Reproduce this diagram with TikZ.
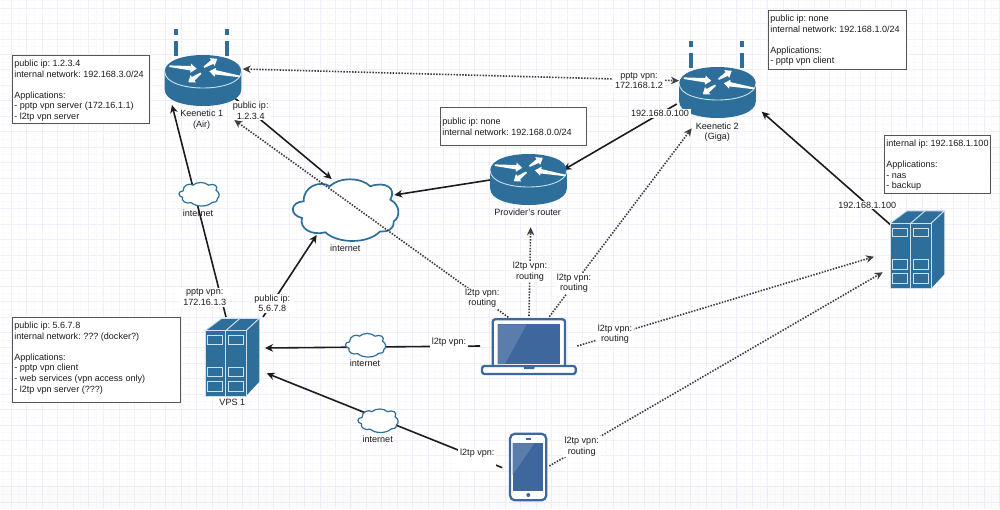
\documentclass[tikz,border=0pt]{standalone}
\usepackage{fontspec}
\setmainfont{Liberation Sans}
\frenchspacing
\usetikzlibrary{arrows.meta,calc}
\definecolor{gridminor}{RGB}{250,249,254}
\definecolor{gridmajor}{RGB}{241,239,252}
\definecolor{ciscoblue}{RGB}{45,110,155}
\definecolor{rimblue}{RGB}{205,225,238}
\definecolor{deviceblue}{RGB}{62,103,158}
\definecolor{devicelight}{RGB}{90,125,172}
\definecolor{inkgrey}{RGB}{28,28,28}
\definecolor{boxgrey}{RGB}{85,85,85}
\tikzset{
    spot/.style={inner sep=0pt,minimum size=0pt},
    caption/.style={font=\fontsize{9.05}{10.6}\selectfont,text=inkgrey,align=center,inner sep=0.5pt},
    wirelabel/.style={caption,fill=white,inner xsep=2pt,inner ysep=1pt},
    frame/.style={draw=boxgrey,line width=1pt,fill=white,inner sep=0pt,anchor=north west},
    link/.style={draw=inkgrey,line width=1.6pt,-{Stealth[length=8pt,width=7.5pt,inset=2.5pt]}},
    tunnel/.style={draw=inkgrey!85,line width=1.6pt,dash pattern=on 1.5pt off 1.4pt,-{Stealth[length=8pt,width=7.5pt,inset=2.5pt]}},
}
\newcommand{\infobox}[5]{
    \node[frame,minimum width=#3pt,minimum height=#4pt] (#1) at (#2) {};
    \node[caption,align=left,anchor=north west,inner xsep=2.2pt,inner ysep=4.8pt] (#1text) at (#1.north west) {#5};
}
\newcommand{\routericon}[1]{
    \begin{scope}[shift={(#1)}]
        \fill[ciscoblue] (-38.3,0) -- (-38.3,18) .. controls (-38.3,40) and (38.3,40) .. (38.3,18)
            -- (38.3,0) .. controls (38.3,-22) and (-38.3,-22) .. cycle;
        \draw[rimblue,line width=0.9pt] (-38.3,0) .. controls (-38.3,22) and (38.3,22) .. (38.3,0);
        \foreach \ax/\ay/\alen/\aang in {-33.7/-5.3/27.5/-5.4, 1/-4.3/15.7/32.3, 37/5/31/170.2, -2/1.7/15.6/-144.7}
            \fill[white,shift={(\ax,\ay)},rotate=\aang] (0,-0.8) -- (\alen-6,-2.2) -- (\alen-6,-4.6) -- (\alen,0)
                -- (\alen-6,4.6) -- (\alen-6,2.2) -- (0,0.8) -- cycle;
    \end{scope}
}
\newcommand{\antennas}[1]{
    \begin{scope}[shift={(#1)}]
        \foreach \ax in {-27,24}{
            \fill[ciscoblue] (\ax-2,-30.5) rectangle (\ax+2,-16);
            \fill[ciscoblue] (\ax-2,-42.5) rectangle (\ax+2,-36.5);
        }
    \end{scope}
}
\newcommand{\servericon}[1]{
    \begin{scope}[shift={(#1)}]
        \fill[ciscoblue] (-27,-26.3) -- (-10.3,-38.7) -- (27.3,-38.7) -- (27.3,24.7) -- (14,39) -- (-27,39) -- cycle;
        \draw[rimblue,line width=1pt] (-27,-26.3) rectangle (14,39);
        \draw[rimblue,line width=1pt] (-6.3,-26.3) -- (-6.3,39);
        \draw[rimblue,line width=1pt] (-27,-26.3) -- (-10.3,-38.7) -- (27.3,-38.7) -- (14,-26.3);
        \draw[rimblue,line width=1pt] (-6.3,-26.3) -- (8,-38.7);
        \foreach \wx in {-24.3,-3.7}
            \foreach \wy/\wh in {-21.3/8.6, 10.3/9.4, 24/10}
                \draw[rimblue,line width=1pt] (\wx,\wy) rectangle ++(15,\wh);
    \end{scope}
}
\newcommand{\cloudicon}[3]{
    \begin{scope}[shift={(#1)},xscale=#2,yscale=#2,shift={(-52.5,-31.5)}]
        \draw[ciscoblue,line width=#3pt,fill=white] (10.7,23.3) .. controls (10,8) and (28,2) .. (36.7,8.3)
            .. controls (46,-1) and (68,-1) .. (77.3,8.3) .. controls (92,3) and (104,10) .. (97.3,21.7)
            .. controls (108,27) and (107,40) .. (100.7,43.3) .. controls (101,52) and (94,54) .. (87,53.5)
            .. controls (75,66) and (45,66) .. (32.3,54.3) .. controls (18,58) and (6,50) .. (9,40)
            .. controls (-4,37) and (-3,24) .. (10.7,23.3) -- cycle;
    \end{scope}
}
\newcommand{\laptopicon}[1]{
    \begin{scope}[shift={(#1)}]
        \draw[deviceblue,line width=2.3pt,fill=white,rounded corners=2.5pt] (-36.3,21) -- (-36.3,-25.7) -- (36,-25.7) -- (36,21);
        \fill[deviceblue] (-31.3,-20.7) rectangle (31,19);
        \fill[devicelight] (-31.3,-20.7) -- (-2.3,-20.7) -- (-24,19) -- (-31.3,19) -- cycle;
        \draw[deviceblue,line width=2.3pt,fill=white,rounded corners=2.5pt] (-47,21) -- (46.7,21) -- (46.7,29) -- (-47,29) -- cycle;
        \fill[deviceblue] (-6,20) -- (6.3,20) -- (5,24) -- (-4.7,24) -- cycle;
    \end{scope}
}
\newcommand{\phoneicon}[1]{
    \begin{scope}[shift={(#1)}]
        \draw[deviceblue,line width=2.3pt,fill=white,rounded corners=5pt] (-18.3,-33.3) rectangle (18,33.3);
        \fill[deviceblue] (-15.6,-23.7) rectangle (15,23.7);
        \fill[devicelight] (-15.6,-23.7) -- (6,-23.7) -- (-15.6,8) -- cycle;
        \fill[deviceblue] (-2.5,-29) rectangle (2.5,-27);
        \fill[deviceblue] (0,28) circle (2pt);
    \end{scope}
}

\begin{document}
\begin{tikzpicture}[x=1pt,y=-1pt]
    \useasboundingbox (0,0) rectangle (1000,509);
    \fill[white] (0,0) rectangle (1000,509);
    \foreach \gx in {0,...,129}
        \draw[gridminor,line width=1pt] (3.6+7.72*\gx,0) -- (3.6+7.72*\gx,509);
    \foreach \gy in {0,...,66}
        \draw[gridminor,line width=1pt] (0,0.5+7.72*\gy) -- (1000,0.5+7.72*\gy);
    \foreach \gx in {0,...,64}
        \draw[gridmajor,line width=1pt] (11.3+15.44*\gx,0) -- (11.3+15.44*\gx,509);
    \foreach \gy in {0,...,32}
        \draw[gridmajor,line width=1pt] (0,8.2+15.44*\gy) -- (1000,8.2+15.44*\gy);
    \fill[black,opacity=0.015] (0,486) rectangle (1000,509);

    % anchors for the devices
    \node[spot] (router1) at (203,71.5) {};
    \node[spot] (router2) at (717.5,83.5) {};
    \node[spot] (router3) at (528.5,170.5) {};
    \node[spot] (vps1) at (232,357) {};
    \node[spot] (nas1) at (917,249.6) {};
    \node[spot] (laptop) at (529,345) {};
    \node[spot] (phone) at (528.3,467) {};
    \node[spot] (inet) at (345.5,209.5) {};
    \node[spot] (cloudA) at (199,194) {};
    \node[spot] (cloudB) at (365.5,345) {};
    \node[spot] (cloudC) at (378,420.5) {};

    % wired links
    \draw[link] ([shift={(-6,-40)}]vps1.center) -- ([shift={(-31,33.5)}]router1.center);
    \draw[link] ([shift={(31,-40)}]vps1.center) -- ([shift={(-28.8,25.5)}]inet.center);
    \draw[link] ([shift={(30,25.2)}]router1.center) -- ([shift={(-13.8,-30.5)}]inet.center);
    \draw[link] ([shift={(-40.8,20.5)}]router2.center) -- ([shift={(34.8,-0.5)}]router3.center);
    \draw[link] ([shift={(-38.5,9.5)}]router3.center) -- ([shift={(48.8,-14.5)}]inet.center);
    \draw[link] ([shift={(-26.3,-24.6)}]nas1.center) -- ([shift={(44.2,28.2)}]router2.center);
    \draw[link] ([shift={(-49,1)}]laptop.center) -- ([shift={(33,-9)}]vps1.center);
    \draw[link] ([shift={(-26,0.7)}]phone.center) -- ([shift={(34.7,16.3)}]vps1.center);

    \cloudicon{inet}{1}{1.7}
    \cloudicon{cloudA}{0.381}{1.2}
    \cloudicon{cloudB}{0.381}{1.2}
    \cloudicon{cloudC}{0.381}{1.2}

    % tunnels
    \draw[tunnel] ([shift={(-20.7,-27.7)}]laptop.center) -- ([shift={(31.3,48.5)}]router1.center);
    \draw[tunnel,{Stealth[length=8pt,width=7.5pt,inset=2.5pt]}-{Stealth[length=8pt,width=7.5pt,inset=2.5pt]}] ([shift={(39.7,-2.5)}]router1.center) -- ([shift={(-38.5,-2.8)}]router2.center);
    \draw[tunnel] ([shift={(0,-29)}]laptop.center) -- ([shift={(2.2,56.8)}]router3.center);
    \draw[tunnel] ([shift={(20.3,-28.3)}]laptop.center) -- ([shift={(-25.8,44.8)}]router2.center);
    \draw[tunnel] ([shift={(48.3,1)}]laptop.center) -- ([shift={(-43,7.1)}]nas1.center);
    \draw[tunnel] ([shift={(21,-1)}]phone.center) -- ([shift={(-34.3,22.7)}]nas1.center);

    \routericon{router1}
    \antennas{router1}
    \routericon{router2}
    \antennas{router2}
    \routericon{router3}
    \servericon{vps1}
    \servericon{nas1}
    \laptopicon{laptop}
    \phoneicon{phone}

    % labels on the wires
    \node[wirelabel] (lblpublicA) at (250.7,110.7) {public ip:\\1.2.3.4};
    \node[wirelabel] (lblpublicB) at (272.3,303.3) {public ip:\\5.6.7.8};
    \node[wirelabel] (lblpptpA) at (204.7,297.3) {pptp vpn:\\172.16.1.3};
    \node[wirelabel] (lblpptpB) at (639,80.7) {pptp vpn:\\172.168.1.2};
    \node[wirelabel] (lblgiga) at (660,113.3) {192.168.0.100};
    \node[wirelabel] (lblnas) at (867.3,205) {192.168.1.100};
    \node[wirelabel] (lblrouteA) at (482.3,298.3) {l2tp vpn:\\routing};
    \node[wirelabel] (lblrouteB) at (530,271.7) {l2tp vpn:\\routing};
    \node[wirelabel] (lblrouteC) at (574,283.3) {l2tp vpn:\\routing};
    \node[wirelabel] (lblrouteD) at (615,334.3) {l2tp vpn:\\routing};
    \node[wirelabel] (lblrouteE) at (581.7,446.7) {l2tp vpn:\\routing};
    \node[wirelabel,anchor=north] (lblvpnA) at (449,336.5) {l2tp vpn:\\\strut};
    \node[wirelabel,anchor=north] (lblvpnB) at (477.3,447.5) {l2tp vpn:\\\strut};

    % captions under the icons
    \node[caption] (capA) at (201.7,119.4) {Keenetic 1\\(Air)};
    \node[caption] (capB) at (717.3,132) {Keenetic 2\\(Giga)};
    \node[caption] (capC) at (527.7,212.7) {Provider's router};
    \node[caption] (capD) at (232.3,402.3) {VPS 1};
    \node[caption] (capE) at (345.3,248) {internet};
    \node[caption] (capF) at (198,213) {internet};
    \node[caption] (capG) at (365,363.3) {internet};
    \node[caption] (capH) at (377.7,439) {internet};

    \infobox{boxA}{12,55}{137}{68}{public ip: 1.2.3.4\\internal network: 192.168.3.0/24\\[10.6pt]Applications:\\- pptp vpn server (172.16.1.1)\\- l2tp vpn server}
    \infobox{boxB}{768,10}{138}{59}{public ip: none\\internal network: 192.168.1.0/24\\[10.6pt]Applications:\\- pptp vpn client}
    \infobox{boxC}{884,135}{106}{58}{internal ip: 192.168.1.100\\[10.6pt]Applications:\\- nas\\- backup}
    \infobox{boxD}{440,107}{146}{38}{\mbox{}\\[1.9pt]public ip: none\\internal network: 192.168.0.0/24}
    \infobox{boxE}{12,317}{168}{85}{public ip: 5.6.7.8\\internal network: ??? (docker?)\\[10.6pt]Applications:\\- pptp vpn client\\- web services (vpn access only)\\- l2tp vpn server (???)}
\end{tikzpicture}
\end{document}
